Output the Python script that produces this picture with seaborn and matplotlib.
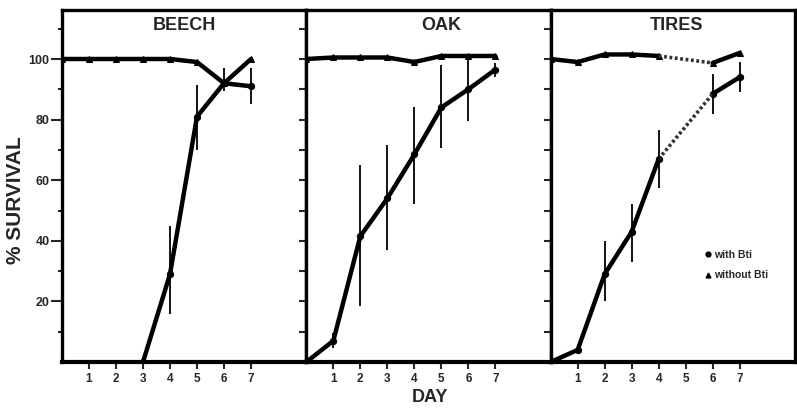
import numpy as np
import pandas as pd
import matplotlib
matplotlib.use("Agg")
import matplotlib.pyplot as plt
import seaborn as sns
from matplotlib.lines import Line2D

# ---------------- data ----------------
panels = ["BEECH", "OAK", "TIRES"]

beech_without_days = [0, 1, 2, 3, 4, 5, 6, 7]
beech_without = [100, 100, 100, 100, 100, 99, 92, 100]
beech_with_days = [3, 4, 5, 6, 7]
beech_with = [0, 29, 81, 92, 91]
beech_with_lo = [np.nan, 16, 70, 89.5, 85]
beech_with_hi = [np.nan, 45, 91.5, 97, 97]

oak_without_days = [0, 1, 2, 3, 4, 5, 6, 7]
oak_without = [100, 100.5, 100.5, 100.5, 99, 101, 101, 101]
oak_with_days = [0, 1, 2, 3, 4, 5, 6, 7]
oak_with = [0, 7, 41.5, 54, 68.5, 84, 90, 96.5]
oak_with_lo = [np.nan, 4.6, 18.6, 37, 52, 70.5, 79.7, 94]
oak_with_hi = [np.nan, 9.5, 65, 71.5, 84, 98, 99.7, 98.7]

tires_without_days = [0, 1, 2, 3, 4, 6, 7]
tires_without = [100, 99, 101.5, 101.5, 101, 98.7, 102]
tires_with_days = [0, 1, 2, 3, 4, 6, 7]
tires_with = [0, 4, 29, 43, 67, 88.5, 94]
tires_with_lo = [np.nan, np.nan, 20, 33, 57.5, 82, 89]
tires_with_hi = [np.nan, np.nan, 40, 52, 76.5, 95, 99]
# tires: day 5 missing -> segments joined by a dotted line
tires_gap = (4, 6)

x_ticks = [1, 2, 3, 4, 5, 6, 7]
y_labels = [20, 40, 60, 80, 100]
legend_labels = ["with Bti", "without Bti"]

# ---------------- style ----------------
sns.set_style("ticks")
plt.rcParams["font.family"] = ["Liberation Sans", "DejaVu Sans"]
plt.rcParams["font.weight"] = "bold"

W, H = 797, 409
fig = plt.figure(figsize=(W / 100, H / 100), dpi=100)
L, R, B, T = 62, 795, 362, 10
pw = (R - L) / 3

def frame(series_list):
    rows = []
    for name, days, vals, seg in series_list:
        for d, v, s in zip(days, vals, seg):
            rows.append({"day": d, "survival": v, "treatment": name, "seg": s})
    return pd.DataFrame(rows)

data = {
    "BEECH": frame([
        ("without Bti", beech_without_days, beech_without, [0] * len(beech_without)),
        ("with Bti", beech_with_days, beech_with, [1] * len(beech_with)),
    ]),
    "OAK": frame([
        ("without Bti", oak_without_days, oak_without, [0] * len(oak_without)),
        ("with Bti", oak_with_days, oak_with, [1] * len(oak_with)),
    ]),
    "TIRES": frame([
        ("without Bti", tires_without_days, tires_without,
         [0 if d <= tires_gap[0] else 2 for d in tires_without_days]),
        ("with Bti", tires_with_days, tires_with,
         [1 if d <= tires_gap[0] else 3 for d in tires_with_days]),
    ]),
}
errs = {
    "BEECH": (beech_with_days, beech_with_lo, beech_with_hi),
    "OAK": (oak_with_days, oak_with_lo, oak_with_hi),
    "TIRES": (tires_with_days, tires_with_lo, tires_with_hi),
}
title_x = {"BEECH": 0.5, "OAK": 0.553, "TIRES": 0.516}

for i, name in enumerate(panels):
    ax = fig.add_axes([(L + i * pw) / W, 1 - B / H, pw / W, (B - T) / H])
    df = data[name]
    sns.lineplot(data=df, x="day", y="survival", style="treatment", units="seg",
                 estimator=None, markers={"with Bti": "o", "without Bti": "^"},
                 dashes=False, color="black", linewidth=3.2, markersize=4.5,
                 markeredgecolor="black", legend=False, ax=ax)
    if name == "TIRES":
        for d_list, v_list in [(tires_without_days, tires_without),
                               (tires_with_days, tires_with)]:
            gx = [d for d in d_list if tires_gap[0] <= d <= tires_gap[1]]
            gy = [v for d, v in zip(d_list, v_list) if tires_gap[0] <= d <= tires_gap[1]]
            sns.lineplot(x=gx, y=gy, color="#333333", linewidth=2.6,
                         linestyle=(0, (0.8, 0.7)), ax=ax)
    d, lo, hi = errs[name]
    ax.vlines(d, lo, hi, color="black", linewidth=1.3)

    ax.set_xlim(0, pw / 27)
    ax.set_ylim(0, (B - T) / 60.6 * 20)
    ax.set_xticks(x_ticks)
    ax.set_xticklabels([str(t) for t in x_ticks])
    ax.tick_params(axis="x", direction="out", length=5, width=1.5,
                   labelsize=8.5, pad=3)
    ax.set_xlabel("")
    ax.set_ylabel("")
    if i == 0:
        ax.set_yticks(y_labels)
        ax.set_yticklabels([str(t) for t in y_labels])
        ax.set_yticks(np.arange(10, 111, 20), minor=True)
        ax.tick_params(axis="y", which="major", direction="out", length=8,
                       width=1.5, labelsize=9, pad=1)
        ax.tick_params(axis="y", which="minor", direction="out", length=3,
                       width=1.5)
    else:
        ax.set_yticks(np.arange(10, 111, 10))
        ax.set_yticklabels([])
        ax.tick_params(axis="y", direction="out", length=5, width=1.5)
    for s in ax.spines.values():
        s.set_visible(True)
        s.set_linewidth(2.4)
        s.set_color("black")
    ax.spines["bottom"].set_linewidth(3)
    ax.text(title_x[name], 0.957, name, transform=ax.transAxes, ha="center",
            va="center", fontsize=13, fontweight="bold")
    if name == "TIRES":
        handles = [Line2D([], [], marker="o", ls="none", color="black", markersize=3.5),
                   Line2D([], [], marker="^", ls="none", color="black", markersize=3.5)]
        ax.legend(handles, legend_labels, loc="upper left",
                  bbox_to_anchor=(0.6, 0.33), frameon=False, fontsize=7.5,
                  handletextpad=0.0, handlelength=1.2, labelspacing=1.0,
                  borderaxespad=0)

fig.text(15.5 / W, 1 - 200 / H, "% SURVIVAL", rotation=90, ha="center",
         va="center", fontsize=15, fontweight="bold")
fig.text(430 / W, 1 - 398 / H, "DAY", ha="center", va="center",
         fontsize=13, fontweight="bold")

fig.savefig("out.png", dpi=100)
